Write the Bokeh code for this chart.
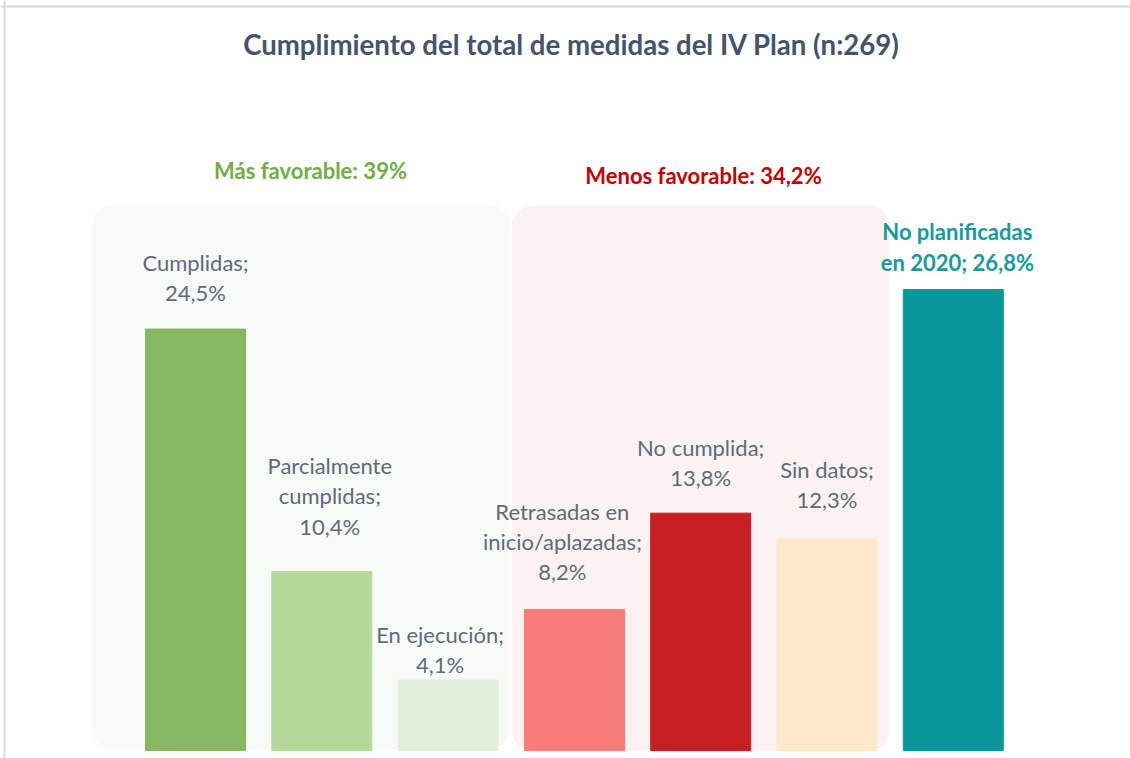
from bokeh.plotting import figure
from bokeh.models import Range1d, BoxAnnotation, Label, Span, ColumnDataSource
from bokeh.core.properties import value
from bokeh.embed import file_html
from bokeh.resources import INLINE

# ---- data ----
categories = ["Cumplidas", "Parcialmente\ncumplidas", "En ejecución",
              "Retrasadas en\ninicio/aplazadas", "No cumplida", "Sin datos",
              "No planificadas\nen 2020"]
values = [24.5, 10.4, 4.1, 8.2, 13.8, 12.3, 26.8]
value_labels = ["24,5%", "10,4%", "4,1%", "8,2%", "13,8%", "12,3%", "26,8%"]
bar_colors = ["#86B861", "#B4D89A", "#E2EFDA", "#F87C7A", "#C82022", "#FEE8CB", "#0A979A"]
group_names = ["Más favorable: 39%", "Menos favorable: 34,2%"]
title_text = "Cumplimiento del total de medidas del IV Plan (n:269)"

# label nudges (screen px) – styling only, like manually dragged data labels
label_dx = [0, 8, -8, -12, 0, 0, 4]
label_dy = [-3, -12, 18, -4, -2, -6, 6]

W, H = 1130, 758
FONT = "Lato"

# layout helpers (picture pixel -> data units)
SLOT = 126.3
X0 = 195.0
PPU = 17.2
BASE = 750.0


def px_x(px):
    return (px - X0) / SLOT


def px_y(py):
    return (BASE - py) / PPU


p = figure(width=W, height=H, output_backend="svg", toolbar_location=None,
           x_range=Range1d(px_x(0), px_x(W)), y_range=Range1d(px_y(H), px_y(0)),
           min_border=0, outline_line_color=None)
p.axis.visible = False
p.grid.visible = False
p.background_fill_color = "white"
p.border_fill_color = "white"

# group backgrounds
p.add_layout(BoxAnnotation(left=px_x(91), right=px_x(510), bottom=px_y(749), top=px_y(204),
                           fill_color="#F8FAF7", fill_alpha=1, line_color=None,
                           border_radius=22, level="underlay"))
p.add_layout(BoxAnnotation(left=px_x(511), right=px_x(889), bottom=px_y(751), top=px_y(205),
                           fill_color="#FDF2F2", fill_alpha=1, line_color=None,
                           border_radius=22, level="underlay"))

# chart border (top & left)
p.add_layout(Span(location=px_y(6), dimension="width", line_color="#D9D9D9", line_width=2))
p.add_layout(Span(location=px_x(4), dimension="height", line_color="#D9D9D9", line_width=2))

xs = list(range(len(values)))
texts = [f"{c};\n{v}" if i < 6 else f"{c.split(chr(10))[0]}\n{c.split(chr(10))[1]}; {v}"
         for i, (c, v) in enumerate(zip(categories, value_labels))]
src = ColumnDataSource(dict(x=xs, top=values, color=bar_colors))

p.vbar(x="x", top="top", bottom=0, width=100 / SLOT, color="color", source=src)

dys = [-20 + d for d in label_dy]
normal = ColumnDataSource(dict(x=xs[:6], y=values[:6], text=texts[:6],
                               dx=label_dx[:6], dy=dys[:6]))
special = ColumnDataSource(dict(x=xs[6:], y=values[6:], text=texts[6:],
                                dx=label_dx[6:], dy=dys[6:]))
p.text(x="x", y="y", text="text", source=normal, text_font=value(FONT),
       text_font_size="22px", text_color="#5E6B7A", text_align="center",
       text_baseline="bottom", text_line_height=1.12, x_offset="dx", y_offset="dy")
p.text(x="x", y="y", text="text", source=special, text_font=value(FONT),
       text_font_size="22px", text_font_style="bold", text_color="#169A9C",
       text_align="center", text_baseline="bottom", text_line_height=1.12,
       x_offset="dx", y_offset="dy")

# group headings
p.add_layout(Label(x=px_x(310), y=px_y(170), text=group_names[0], text_font=FONT,
                   text_font_size="22px", text_font_style="bold", text_color="#70AD47",
                   text_align="center", text_baseline="middle"))
p.add_layout(Label(x=px_x(703), y=px_y(175), text=group_names[1], text_font=FONT,
                   text_font_size="22px", text_font_style="bold", text_color="#C00000",
                   text_align="center", text_baseline="middle"))

# title
p.add_layout(Label(x=px_x(571), y=px_y(44), text=title_text, text_font=FONT,
                   text_font_size="27.6px", text_font_style="bold", text_color="#44546A",
                   text_align="center", text_baseline="middle"))

open("out.html", "w").write(file_html(p, INLINE))
